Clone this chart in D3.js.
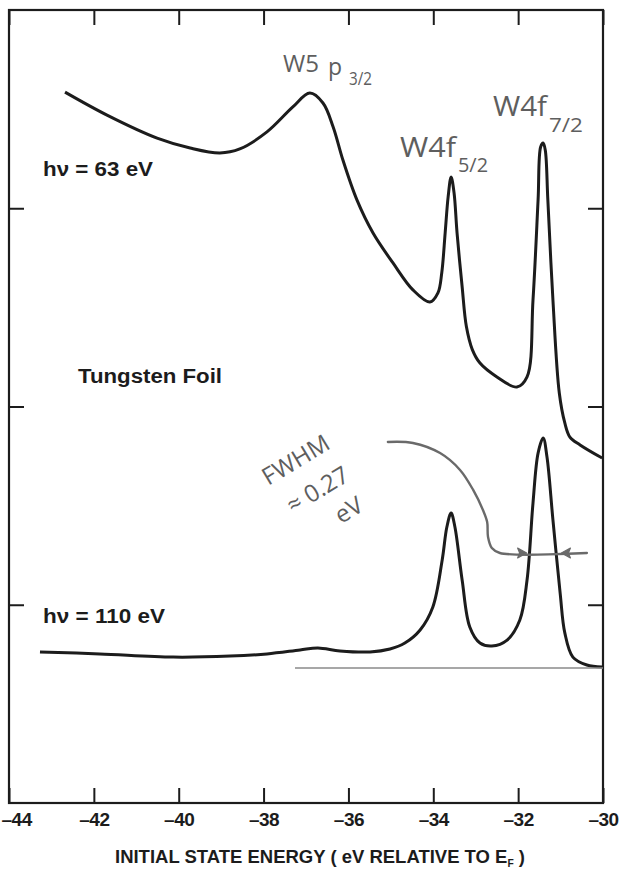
<!DOCTYPE html>
<html><head><meta charset="utf-8">
<script src="https://cdn.jsdelivr.net/npm/d3@7"></script>
<style>
html,body{margin:0;padding:0;background:#fff;}
svg{display:block;}
</style></head>
<body>
<svg id="chart" width="621" height="872"></svg>
<script>
// ---------- DATA ----------
const xTicks = [-44, -42, -40, -38, -36, -34, -32, -30];
const xTickLabels = ["–44", "–42", "–40", "–38", "–36", "–34", "–32", "–30"];
const yTicks = [1, 2, 3];

// hν = 63 eV spectrum (energy in eV, intensity arb. units)
const spec63Energy = [-42.68, -41.69, -40.51, -39.73, -39.03, -38.56, -37.92, -37.31, -36.91, -36.60, -36.36, -36.13, -35.80, -35.42, -34.95, -34.48, -34.08, -33.89, -33.80, -33.72, -33.65, -33.58, -33.51, -33.44, -33.32, -33.22, -33.08, -32.90, -32.50, -32.03, -31.79, -31.65, -31.53, -31.47, -31.41, -31.36, -31.30, -31.18, -31.03, -30.90, -30.78, -30.54, -30.02];
const spec63Int    = [3.586, 3.470, 3.354, 3.304, 3.279, 3.299, 3.385, 3.511, 3.581, 3.531, 3.410, 3.243, 3.042, 2.875, 2.724, 2.588, 2.527, 2.573, 2.675, 2.876, 3.057, 3.158, 3.077, 2.876, 2.604, 2.403, 2.287, 2.219, 2.149, 2.098, 2.149, 2.537, 3.042, 3.309, 3.329, 3.293, 3.042, 2.537, 2.068, 1.917, 1.846, 1.806, 1.740];

// hν = 110 eV spectrum
const spec110Energy = [-43.27, -41.86, -40.13, -38.79, -37.92, -37.14, -36.72, -36.20, -35.49, -35.02, -34.67, -34.31, -34.01, -33.79, -33.68, -33.58, -33.49, -33.32, -33.14, -32.90, -32.62, -32.26, -31.96, -31.79, -31.65, -31.53, -31.41, -31.32, -31.18, -31.01, -30.90, -30.71, -30.38, -30.02];
const spec110Int    = [0.762, 0.752, 0.736, 0.741, 0.752, 0.772, 0.782, 0.767, 0.762, 0.777, 0.807, 0.873, 0.989, 1.226, 1.392, 1.463, 1.392, 1.125, 0.888, 0.807, 0.792, 0.822, 0.923, 1.125, 1.513, 1.765, 1.841, 1.745, 1.428, 1.059, 0.858, 0.736, 0.696, 0.686];

// zero-level line drawn under the 110 eV spectrum
const baselineEnergy = [-37.26, -30.0];
const baselineInt = [0.681, 0.681];

// hand-drawn FWHM pointer
const fwhmEnergy = [-35.07, -34.48, -33.84, -33.37, -33.06, -32.83, -32.73, -32.71, -32.62, -32.43, -30.38];
const fwhmInt    = [1.821, 1.816, 1.765, 1.680, 1.579, 1.478, 1.417, 1.342, 1.286, 1.261, 1.261];
const fwhmArrowTips = [-31.80, -30.98];
const fwhmArrowLevel = 1.261;

const spectrumLabels = ["hν = 63 eV", "Tungsten Foil", "hν = 110 eV"];

// ---------- CHART ----------
(function () {
const svg = d3.select("#chart");
const W = 621, H = 872;
const mLeft = 9, mRight = 603, mTop = 10, mBottom = 803;

const x = d3.scaleLinear().domain([-44, -30]).range([mLeft, mRight]);
const y = d3.scaleLinear().domain([0, 4]).range([mBottom, mTop]);

svg.append("rect").attr("width", W).attr("height", H).attr("fill", "#ffffff");

const ink = "#1c1c1c";
const pencil = "#5e5e5e";

// axes (ticks inward)
const axB = svg.append("g").attr("transform", `translate(0,${mBottom})`)
  .call(d3.axisBottom(x).tickValues(xTicks).tickSize(-15).tickPadding(10)
        .tickFormat((d, i) => xTickLabels[i]));
const axT = svg.append("g").attr("transform", `translate(0,${mTop})`)
  .call(d3.axisTop(x).tickValues(xTicks).tickSize(-15).tickFormat(""));
const axL = svg.append("g").attr("transform", `translate(${mLeft},0)`)
  .call(d3.axisLeft(y).tickValues(yTicks).tickSize(-15).tickFormat(""));
const axR = svg.append("g").attr("transform", `translate(${mRight},0)`)
  .call(d3.axisRight(y).tickValues(yTicks).tickSize(-15).tickFormat(""));

[axB, axT, axL, axR].forEach(g => {
  g.select(".domain").remove();
  g.selectAll(".tick line").attr("stroke", ink).attr("stroke-width", 2);
});
axB.selectAll(".tick text")
  .attr("fill", ink)
  .attr("font-family", "'Liberation Sans', Arial, sans-serif")
  .attr("font-weight", "bold")
  .attr("font-size", 19)
  .attr("letter-spacing", "-0.5");
// keep the leftmost label inside the page
axB.selectAll(".tick text").filter(d => d === -44)
  .attr("text-anchor", "start").attr("x", -8);

// frame
svg.append("rect")
  .attr("x", mLeft).attr("y", mTop)
  .attr("width", mRight - mLeft).attr("height", mBottom - mTop)
  .attr("fill", "none").attr("stroke", ink).attr("stroke-width", 2.2);

// axis title
const title = svg.append("text")
  .attr("x", 320).attr("y", 863)
  .attr("text-anchor", "middle")
  .attr("font-family", "'Liberation Sans', Arial, sans-serif")
  .attr("font-weight", "bold")
  .attr("font-size", 18)
  .attr("fill", ink)
  .attr("textLength", 410)
  .attr("lengthAdjust", "spacingAndGlyphs");
title.append("tspan").text("INITIAL STATE ENERGY  ( eV  RELATIVE TO E");
title.append("tspan").attr("font-size", 10).attr("dy", 4).text("F");
title.append("tspan").attr("dy", -4).text(" )");

// spectra
const line = d3.line()
  .x(d => x(d[0])).y(d => y(d[1]))
  .curve(d3.curveCatmullRom.alpha(0.5));

svg.append("path")
  .datum(spec63Energy.map((e, i) => [e, spec63Int[i]]))
  .attr("d", line).attr("fill", "none")
  .attr("stroke", ink).attr("stroke-width", 3).attr("stroke-linejoin", "round");

svg.append("path")
  .datum(spec110Energy.map((e, i) => [e, spec110Int[i]]))
  .attr("d", line).attr("fill", "none")
  .attr("stroke", ink).attr("stroke-width", 3).attr("stroke-linejoin", "round");

svg.append("path")
  .datum(baselineEnergy.map((e, i) => [e, baselineInt[i]]))
  .attr("d", d3.line().x(d => x(d[0])).y(d => y(d[1])))
  .attr("fill", "none").attr("stroke", "#8a8a8a").attr("stroke-width", 1.6);

// FWHM pointer
svg.append("path")
  .datum(fwhmEnergy.map((e, i) => [e, fwhmInt[i]]))
  .attr("d", line).attr("fill", "none")
  .attr("stroke", "#6a6a6a").attr("stroke-width", 2.4).attr("stroke-linecap", "round");

const ay = y(fwhmArrowLevel);
const t1 = x(fwhmArrowTips[0]), t2 = x(fwhmArrowTips[1]);
svg.append("path").attr("d", `M${t1},${ay} L${t1 - 9},${ay - 5} L${t1 - 7},${ay} L${t1 - 9},${ay + 5} Z`)
  .attr("fill", "#6a6a6a").attr("stroke", "#6a6a6a").attr("stroke-width", 1.2).attr("stroke-linejoin", "round");
svg.append("path").attr("d", `M${t2},${ay} L${t2 + 9},${ay - 5} L${t2 + 7},${ay} L${t2 + 9},${ay + 5} Z`)
  .attr("fill", "#6a6a6a").attr("stroke", "#6a6a6a").attr("stroke-width", 1.2).attr("stroke-linejoin", "round");

// bold printed labels
const boldFont = "'Liberation Sans', Arial, sans-serif";
function boldLabel(txt, xx, yy, len) {
  svg.append("text").attr("x", xx).attr("y", yy)
    .attr("font-family", boldFont).attr("font-weight", "bold")
    .attr("font-size", 20).attr("fill", ink)
    .attr("textLength", len).attr("lengthAdjust", "spacingAndGlyphs")
    .text(txt);
}
boldLabel(spectrumLabels[0], 43, 176, 110);
boldLabel(spectrumLabels[1], 78, 383, 144);
boldLabel(spectrumLabels[2], 43, 623, 122);

// handwritten annotations
const handFont = "'Open Sans', 'DejaVu Sans', sans-serif";
function hand(parts, xx, yy) {
  const t = svg.append("text").attr("x", xx).attr("y", yy)
    .attr("font-family", handFont).attr("font-weight", 400).attr("fill", pencil);
  parts.forEach(p => {
    const s = t.append("tspan").attr("font-size", p.size).text(p.text);
    if (p.dy) s.attr("dy", p.dy);
    if (p.dx) s.attr("dx", p.dx);
    if (p.len) s.attr("textLength", p.len).attr("lengthAdjust", "spacingAndGlyphs");
  });
  return t;
}
hand([{text: "W5", size: 23, len: 36}, {text: "p", size: 23, dx: 9, dy: 3}, {text: "3/2", size: 19, dx: 7, dy: 10, len: 23}], 283, 72);
hand([{text: "W4f", size: 27, len: 56}, {text: "5/2", size: 20, dx: 2, dy: 15, len: 30}], 400, 157);
hand([{text: "W4f", size: 27, len: 54}, {text: "7/2", size: 20, dx: 2, dy: 16, len: 34}], 493, 116);

const fw = svg.append("g").attr("fill", pencil)
  .attr("font-family", handFont).attr("font-weight", 400);
fw.append("text").attr("transform", "translate(300,467) rotate(-31)")
  .attr("text-anchor", "middle").attr("font-size", 24).text("FWHM");
fw.append("text").attr("transform", "translate(322,497) rotate(-31)")
  .attr("text-anchor", "middle").attr("font-size", 24).text("≈ 0.27");
fw.append("text").attr("transform", "translate(353,517) rotate(-31)")
  .attr("text-anchor", "middle").attr("font-size", 24).text("eV");
})();
</script>
</body></html>
